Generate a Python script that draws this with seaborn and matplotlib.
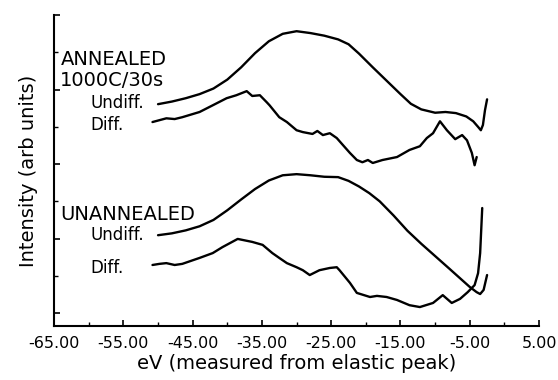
"""Electron energy loss spectra: annealed vs unannealed, undiffracted and diffracted"""
import numpy as np
import pandas as pd
import seaborn as sns
import matplotlib.pyplot as plt
from matplotlib.ticker import MultipleLocator, FormatStrFormatter

# annealed 1000C/30s, undiffracted
ann_undiff_x = [-50.0, -48.0, -46.0, -44.0, -42.0, -40.0, -38.0, -36.0, -34.0, -32.0,
                -30.0, -28.0, -26.0, -24.0, -22.5, -21.0, -19.0, -17.0, -15.0, -13.5,
                -12.0, -10.0, -8.5, -7.0, -5.5, -4.5, -3.8, -3.4, -3.1, -2.8, -2.5]
ann_undiff_y = [5.61, 5.68, 5.77, 5.88, 6.03, 6.27, 6.60, 6.98, 7.30, 7.50,
                7.57, 7.52, 7.45, 7.35, 7.22, 6.97, 6.60, 6.24, 5.88, 5.62,
                5.47, 5.38, 5.40, 5.37, 5.28, 5.15, 5.00, 4.91, 5.05, 5.45, 5.74]

# annealed 1000C/30s, diffracted
ann_diff_x = [-50.8, -49.8, -48.8, -47.6, -46.5, -44.0, -42.1, -40.1, -38.7, -37.2,
              -36.4, -35.3, -34.3, -33.9, -32.5, -31.4, -30.0, -29.1, -27.7, -27.0,
              -26.2, -25.2, -24.2, -23.3, -22.3, -21.3, -20.5, -19.7, -19.0, -17.6,
              -15.5, -13.7, -12.2, -11.2, -10.3, -9.3, -8.3, -7.1, -6.1, -5.4,
              -4.7, -4.3, -4.0]
ann_diff_y = [5.13, 5.18, 5.23, 5.21, 5.26, 5.40, 5.58, 5.77, 5.85, 5.96,
              5.83, 5.85, 5.66, 5.58, 5.26, 5.13, 4.91, 4.86, 4.81, 4.89,
              4.78, 4.83, 4.70, 4.51, 4.30, 4.11, 4.05, 4.11, 4.03, 4.11,
              4.19, 4.38, 4.48, 4.70, 4.83, 5.15, 4.91, 4.67, 4.78, 4.64,
              4.30, 3.97, 4.19]

# unannealed, undiffracted
unann_undiff_x = [-50.0, -48.0, -46.0, -44.0, -42.0, -40.0, -38.0, -36.0, -34.0, -32.0,
                  -30.0, -28.0, -26.0, -24.0, -22.5, -21.0, -19.5, -18.0, -16.0, -14.0,
                  -12.0, -10.0, -8.0, -6.5, -5.0, -4.0, -3.5, -3.0, -2.5]
unann_undiff_y = [2.09, 2.14, 2.22, 2.33, 2.50, 2.76, 3.05, 3.33, 3.56, 3.70,
                  3.73, 3.70, 3.66, 3.65, 3.55, 3.40, 3.22, 3.00, 2.62, 2.21,
                  1.86, 1.53, 1.20, 0.95, 0.70, 0.56, 0.51, 0.62, 1.02]

# unannealed, diffracted
unann_diff_x = [-50.8, -49.8, -48.8, -47.6, -46.5, -44.0, -42.1, -40.7, -38.5, -36.4,
                -34.9, -33.5, -32.5, -31.4, -30.0, -29.1, -28.1, -26.7, -25.2, -24.2,
                -23.8, -22.3, -21.3, -19.4, -18.4, -17.0, -15.5, -13.7, -12.2, -10.3,
                -8.9, -7.6, -6.4, -5.3, -4.3, -3.8, -3.5, -3.2]
unann_diff_y = [1.29, 1.32, 1.34, 1.29, 1.32, 1.48, 1.61, 1.77, 1.99, 1.91,
                1.83, 1.61, 1.48, 1.34, 1.23, 1.15, 1.02, 1.15, 1.21, 1.23,
                1.15, 0.81, 0.54, 0.43, 0.46, 0.43, 0.35, 0.21, 0.16, 0.27,
                0.48, 0.27, 0.38, 0.56, 0.75, 1.07, 1.61, 2.82]

curves = [(ann_undiff_x, ann_undiff_y), (ann_diff_x, ann_diff_y),
          (unann_undiff_x, unann_undiff_y), (unann_diff_x, unann_diff_y)]

sns.set_style("ticks")
plt.rcParams['font.family'] = ['DejaVu Sans']
plt.rcParams['text.color'] = 'black'
plt.rcParams['axes.labelcolor'] = 'black'

fig = plt.figure(figsize=(5.58, 3.80), dpi=100)
ax = fig.add_axes([0.097, 0.142, 0.869, 0.818])

for xs, ys in curves:
    df = pd.DataFrame({'x': xs, 'y': ys})
    sns.lineplot(data=df, x='x', y='y', ax=ax, color='black', linewidth=1.7,
                 sort=False, estimator=None)

ax.set_xlim(-65, 5)
ax.set_ylim(-0.35, 8.0)
ax.set_xticks(np.arange(-65, 6, 10))
ax.xaxis.set_minor_locator(MultipleLocator(5))
ax.xaxis.set_major_formatter(FormatStrFormatter('%.2f'))
ax.yaxis.set_major_locator(MultipleLocator(2))
ax.yaxis.set_minor_locator(MultipleLocator(1))
ax.set_yticklabels([])
ax.tick_params(axis='both', which='major', direction='in', length=4.5, width=1.2,
               colors='black', labelsize=11.5)
ax.tick_params(axis='both', which='minor', direction='in', length=3, width=1.0,
               colors='black')
ax.tick_params(axis='x', which='major', pad=7)
for side in ['left', 'bottom']:
    ax.spines[side].set_linewidth(1.5)
    ax.spines[side].set_color('black')
sns.despine(ax=ax)

ax.set_xlabel('eV (measured from elastic peak)', fontsize=14, labelpad=2)
ax.set_ylabel('Intensity (arb units)', fontsize=14, labelpad=8)

ax.text(-64.1, 6.66, 'ANNEALED', fontsize=14, va='baseline', ha='left')
ax.text(-64.1, 6.09, '1000C/30s', fontsize=14, va='baseline', ha='left')
ax.text(-59.8, 5.50, 'Undiff.', fontsize=12, va='baseline', ha='left')
ax.text(-59.8, 4.91, 'Diff.', fontsize=12, va='baseline', ha='left')
ax.text(-64.1, 2.50, 'UNANNEALED', fontsize=14, va='baseline', ha='left')
ax.text(-59.8, 1.96, 'Undiff.', fontsize=12, va='baseline', ha='left')
ax.text(-59.8, 1.07, 'Diff.', fontsize=12, va='baseline', ha='left')

fig.savefig('out.png', dpi=100)
